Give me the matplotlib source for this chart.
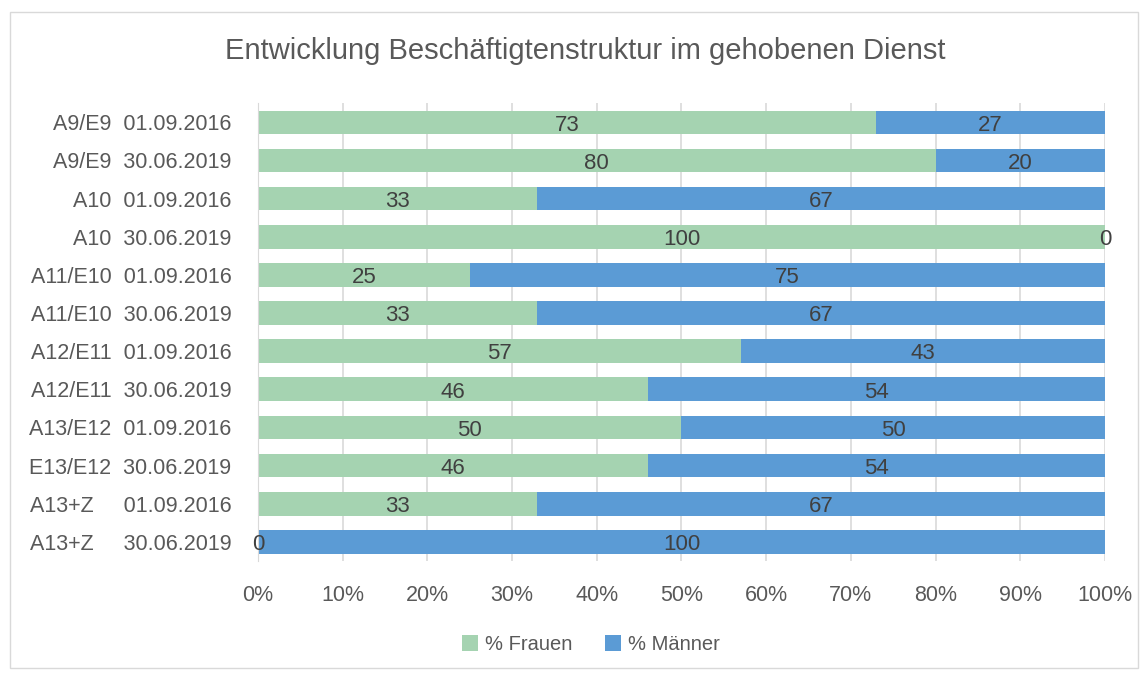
import matplotlib.pyplot as plt
from matplotlib.patches import Rectangle

plt.rcParams['font.family'] = ['Liberation Sans', 'DejaVu Sans']

gruppen = ["A9/E9", "A9/E9", "A10", "A10", "A11/E10", "A11/E10",
           "A12/E11", "A12/E11", "A13/E12", "E13/E12", "A13+Z", "A13+Z"]
stichtage = ["01.09.2016", "30.06.2019"] * 6
frauen = [73, 80, 33, 100, 25, 33, 57, 46, 50, 46, 33, 0]
maenner = [27, 20, 67, 0, 75, 67, 43, 54, 50, 54, 67, 100]

gruen = '#A5D3B1'
blau = '#5B9BD5'
textfarbe = '#404040'

fig = plt.figure(figsize=(11.45, 6.75), dpi=100)
ax = fig.add_axes([0.2253, 0.169, 0.7397, 0.678])

pos = list(range(len(frauen)))
b1 = ax.barh(pos, frauen, height=0.62, color=gruen, label='% Frauen')
b2 = ax.barh(pos, maenner, left=frauen, height=0.62, color=blau, label='% Männer')
for lbl in ax.bar_label(b1, label_type='center', fontsize=16, color=textfarbe) + \
        ax.bar_label(b2, label_type='center', fontsize=16, color=textfarbe):
    lbl.xyann = (0, -2)

ax.set_ylim(len(pos) - 0.5, -0.5)
ax.set_xlim(0, 100)
ax.set_xticks(range(0, 101, 10))
ax.set_xticklabels([f"{v}%" for v in range(0, 101, 10)], fontsize=15.5, color='#595959')

labels = []
for g, d in zip(gruppen, stichtage):
    sep = "     " if g == "A13+Z" else "  "
    labels.append(g + sep + d)
ax.set_yticks(pos)
ax.set_yticklabels(labels, fontsize=15.5, color='#595959')

ax.grid(axis='x', color='#D9D9D9', linewidth=1.2)
ax.set_axisbelow(True)
for s in ['top', 'right', 'bottom']:
    ax.spines[s].set_visible(False)
ax.spines['left'].set_color('#D9D9D9')
ax.tick_params(length=0)
ax.tick_params(axis='y', pad=19)
ax.tick_params(axis='x', pad=17)

fig.text(0.511, 0.925, "Entwicklung Beschäftigtenstruktur im gehobenen Dienst",
         ha='center', va='center', fontsize=21, color='#595959')

fig.legend(loc='center', bbox_to_anchor=(0.516, 0.045), ncol=2, frameon=False,
           fontsize=14.5, labelcolor='#595959', handlelength=0.8, handleheight=0.8,
           columnspacing=1.6, handletextpad=0.35)

fig.patches.append(Rectangle((0.009, 0.01), 0.985, 0.972, transform=fig.transFigure,
                             fill=False, edgecolor='#D9D9D9', linewidth=1))

fig.savefig('out.png', dpi=100)
